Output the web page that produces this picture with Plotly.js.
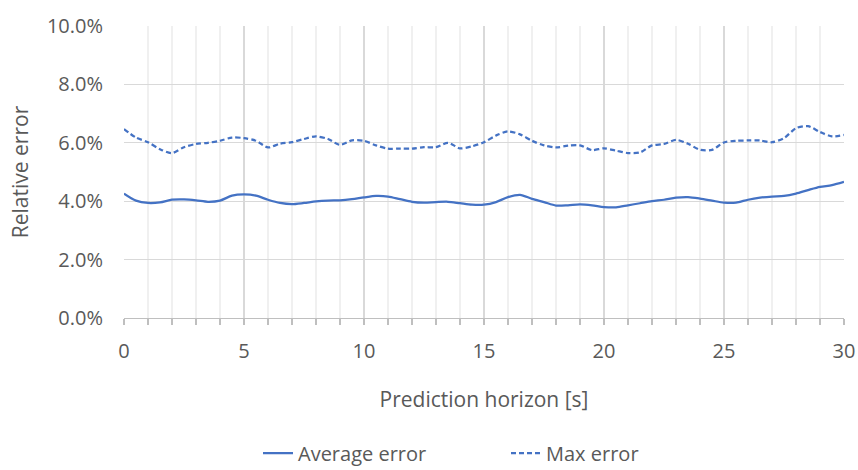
<!DOCTYPE html>
<html>
<head>
<meta charset="utf-8">
<script src="https://cdn.plot.ly/plotly-3.0.1.min.js"></script>
<style>html,body{margin:0;padding:0;background:#fff;}#chart{width:858px;height:470px;}</style>
</head>
<body>
<div id="chart"></div>
<script>
// Prediction horizon [s], 0.5 s steps
const horizon = [0,0.5,1,1.5,2,2.5,3,3.5,4,4.5,5,5.5,6,6.5,7,7.5,8,8.5,9,9.5,10,10.5,11,11.5,12,12.5,13,13.5,14,14.5,15,15.5,16,16.5,17,17.5,18,18.5,19,19.5,20,20.5,21,21.5,22,22.5,23,23.5,24,24.5,25,25.5,26,26.5,27,27.5,28,28.5,29,29.5,30];
// Average error (fraction)
const averageError = [0.0426,0.0402,0.0394,0.0396,0.0405,0.0406,0.0403,0.0398,0.0402,0.0419,0.0423,0.0419,0.0405,0.0394,0.0390,0.0394,0.0399,0.0402,0.0403,0.0407,0.0413,0.0418,0.0416,0.0407,0.0398,0.0395,0.0397,0.0398,0.0393,0.0388,0.0388,0.0397,0.0414,0.0422,0.0408,0.0397,0.0385,0.0386,0.0389,0.0386,0.0380,0.0379,0.0386,0.0393,0.0400,0.0405,0.0412,0.0414,0.0409,0.0402,0.0395,0.0395,0.0405,0.0412,0.0416,0.0418,0.0426,0.0438,0.0449,0.0455,0.0466];
// Max error (fraction)
const maxError = [0.0647,0.0618,0.0602,0.0578,0.0565,0.0585,0.0596,0.0600,0.0607,0.0618,0.0616,0.0607,0.0584,0.0597,0.0602,0.0613,0.0622,0.0613,0.0593,0.0608,0.0607,0.0591,0.0580,0.0580,0.0580,0.0585,0.0585,0.0600,0.0581,0.0588,0.0602,0.0625,0.0639,0.0629,0.0607,0.0591,0.0584,0.0590,0.0591,0.0575,0.0581,0.0573,0.0565,0.0567,0.0591,0.0596,0.0610,0.0597,0.0576,0.0576,0.0601,0.0607,0.0608,0.0608,0.0602,0.0616,0.0650,0.0657,0.0637,0.0622,0.0627];

const seriesNames = ['Average error', 'Max error'];
const yTickVals = [0,0.02,0.04,0.06,0.08,0.10];
const xTickVals = [0,5,10,15,20,25,30];

const textColor = '#595959';
const fontFam = '"Open Sans", "Noto Sans", sans-serif';

const traces = [
  {x: horizon, y: averageError, name: seriesNames[0], mode: 'lines',
   line: {color: '#4472C4', width: 2.25, shape: 'spline', smoothing: 0.8}},
  {x: horizon, y: maxError, name: seriesNames[1], mode: 'lines',
   line: {color: '#4472C4', width: 2.25, shape: 'spline', smoothing: 0.8, dash: '5px,3px'}}
];

const layout = {
  width: 858, height: 470,
  margin: {l: 124, r: 14, t: 26, b: 151.5},
  paper_bgcolor: '#fff', plot_bgcolor: '#fff',
  font: {family: fontFam, color: textColor, size: 20},
  showlegend: true,
  legend: {orientation: 'h', xref: 'container', x: 258/858, xanchor: 'left',
           yref: 'container', y: 0.036, yanchor: 'middle',
           entrywidth: 203, entrywidthmode: 'pixels',
           font: {family: fontFam, color: textColor, size: 20}, tracegroupgap: 0},
  xaxis: {
    range: [0, 30], tickvals: xTickVals, ticktext: xTickVals.map(String),
    showgrid: true, gridcolor: '#d9d9d9', gridwidth: 1.3,
    zeroline: false, showline: true, linecolor: '#bfbfbf', linewidth: 1.3,
    ticks: 'outside', ticklen: 6, tickcolor: '#bfbfbf', tickwidth: 1.3,
    ticklabelstandoff: 9,
    minor: {dtick: 1, ticks: 'outside', ticklen: 6, tickcolor: '#bfbfbf', tickwidth: 1.3,
            showgrid: true, gridcolor: '#f0f0f0', gridwidth: 1.3},
    tickfont: {family: fontFam, color: textColor, size: 20},
    title: {text: 'Prediction horizon [s]', standoff: 29, font: {family: fontFam, color: textColor, size: 21}},
    fixedrange: true
  },
  yaxis: {
    range: [0, 0.1], tickvals: yTickVals, tickformat: '.1%',
    showgrid: true, gridcolor: '#d9d9d9', gridwidth: 1.3,
    zeroline: false, showline: false, ticks: '',
    ticklabelstandoff: 20,
    tickfont: {family: fontFam, color: textColor, size: 20},
    title: {text: 'Relative error', standoff: 12, font: {family: fontFam, color: textColor, size: 21}},
    fixedrange: true
  }
};

Plotly.newPlot('chart', traces, layout, {displayModeBar: false, staticPlot: true});
</script>
</body>
</html>
